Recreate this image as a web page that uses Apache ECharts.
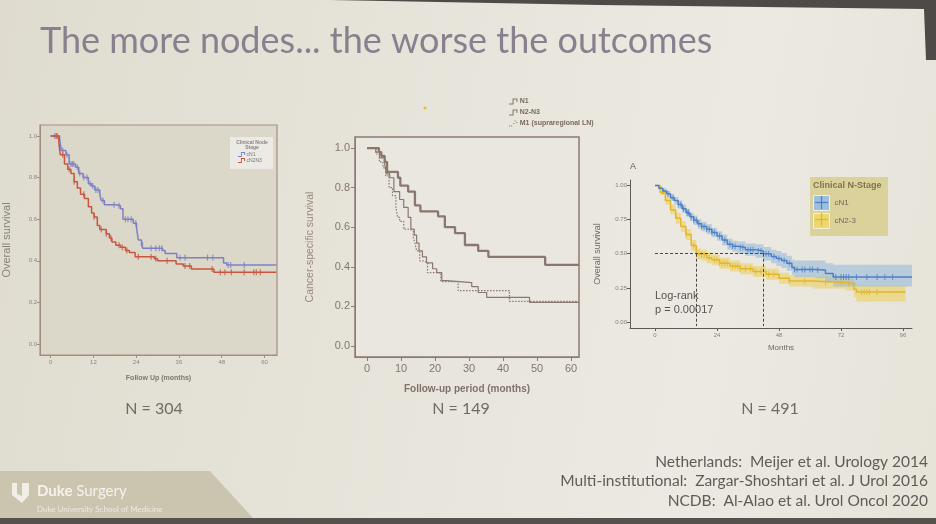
<!DOCTYPE html>
<html>
<head>
<meta charset="utf-8" />
<title>The more nodes... the worse the outcomes</title>
<script src="https://cdn.jsdelivr.net/npm/echarts@6/dist/echarts.min.js"></script>
<style>
  html, body { margin: 0; padding: 0; }
  body { background: linear-gradient(100deg, #dfdccf 0%, #e7e5db 45%, #ebe9e1 75%, #e6e3d9 100%); }
  #main { width: 936px; height: 524px; }
</style>
</head>
<body>
<div id="main"></div>
<script>
// ---- chart 1: Netherlands (Meijer 2014) ----
var c1Ticks = [0, 12, 24, 36, 48, 60];
var c1YTicks = [0, 0.2, 0.4, 0.6, 0.8, 1.0];
var cN1Time = [0, 1.2, 2.5, 3.0, 4.3, 5.2, 7.0, 7.9, 9.1, 10.6, 11.5, 12.4, 13.8, 14.2, 15.1, 18.3, 19.6, 20.3, 23.2, 24.1, 24.6, 25.5, 25.9, 31.4, 32.1, 35.4, 48.5, 49.4, 63.3];
var cN1Surv = [1.0, 1.0, 0.99, 0.93, 0.91, 0.865, 0.85, 0.82, 0.80, 0.77, 0.76, 0.74, 0.72, 0.69, 0.67, 0.665, 0.65, 0.60, 0.58, 0.56, 0.50, 0.475, 0.46, 0.45, 0.435, 0.415, 0.39, 0.38, 0.38];
var cN1Cens = [1.2, 1.9, 2.5, 3.4, 4.6, 5.7, 6.1, 6.5, 7.5, 8.2, 9.3, 10.2, 11.1, 11.8, 12.7, 13.3, 14.7, 17.8, 19.2, 21.0, 21.7, 22.6, 23.9, 25.8, 28.2, 29.5, 30.5, 31.2, 36.3, 37.7, 44.0, 45.5, 49.8, 50.5, 54.3];
var cN23Time = [0, 1.0, 2.3, 2.7, 3.9, 4.8, 5.7, 6.6, 7.5, 8.4, 9.5, 10.6, 11.5, 12.2, 13.1, 13.8, 15.6, 16.5, 17.2, 18.3, 19.6, 21.0, 22.1, 23.7, 29.1, 30.0, 35.2, 37.2, 39.5, 45.8, 63.3];
var cN23Surv = [1.0, 1.0, 0.97, 0.91, 0.865, 0.84, 0.82, 0.78, 0.75, 0.72, 0.70, 0.66, 0.63, 0.61, 0.57, 0.55, 0.53, 0.51, 0.49, 0.475, 0.465, 0.45, 0.44, 0.42, 0.41, 0.40, 0.385, 0.375, 0.36, 0.345, 0.345];
var cN23Cens = [1.6, 3.4, 5.2, 6.6, 9.3, 12.2, 14.2, 15.6, 16.9, 19.2, 20.1, 21.4, 24.6, 28.2, 29.5, 32.7, 37.7, 39.0, 45.3, 47.6, 48.9, 50.7, 54.3, 57.0, 57.7, 58.8];

// ---- chart 2: multi-institutional (Zargar-Shoshtari 2016) ----
var c2Ticks = [0, 10, 20, 30, 40, 50, 60];
var c2YTicks = [0, 0.2, 0.4, 0.6, 0.8, 1.0];
var n1Time = [0, 3.5, 4.2, 5.2, 5.9, 9.1, 9.8, 12.1, 14.1, 15.7, 20.9, 22.9, 25.9, 28.8, 32.7, 35.7, 52.4, 62.3];
var n1Surv = [1.0, 0.98, 0.96, 0.93, 0.88, 0.85, 0.81, 0.78, 0.71, 0.68, 0.655, 0.60, 0.57, 0.51, 0.48, 0.45, 0.41, 0.41];
var n23Time = [0, 2.6, 3.7, 5.2, 5.7, 6.7, 7.9, 9.6, 10.8, 12.1, 12.9, 13.9, 14.6, 15.3, 16.3, 17.5, 19.3, 20.5, 22.0, 23.4, 30.8, 32.7, 35.2, 47.8, 62.3];
var n23Surv = [1.0, 0.98, 0.95, 0.92, 0.87, 0.85, 0.78, 0.74, 0.70, 0.65, 0.59, 0.56, 0.52, 0.48, 0.45, 0.42, 0.39, 0.37, 0.33, 0.32, 0.30, 0.27, 0.245, 0.22, 0.22];
var m1Time = [0, 2.6, 3.6, 4.7, 5.5, 6.5, 7.5, 8.5, 9.0, 9.6, 10.8, 12.6, 13.6, 14.1, 14.6, 15.5, 16.7, 17.8, 20.5, 21.7, 26.8, 41.9, 62.3];
var m1Surv = [1.0, 0.97, 0.93, 0.90, 0.86, 0.80, 0.76, 0.70, 0.65, 0.63, 0.59, 0.58, 0.55, 0.52, 0.48, 0.43, 0.42, 0.37, 0.37, 0.325, 0.28, 0.225, 0.225];

// ---- chart 3: NCDB (Al-Alao 2020) ----
var c3Ticks = [0, 24, 48, 72, 96];
var c3YTicks = [0, 0.25, 0.5, 0.75, 1.0];
var ncN1Time = [0, 1.5, 3, 4.5, 6, 7.5, 9, 10.5, 12, 13.5, 15, 16.5, 18, 20, 22, 24, 26, 28, 30, 32, 35, 39, 42, 45, 47, 49, 51, 53, 54, 62, 66, 69, 99.5];
var ncN1Surv = [1.0, 0.98, 0.96, 0.94, 0.91, 0.89, 0.86, 0.83, 0.80, 0.77, 0.745, 0.72, 0.70, 0.68, 0.655, 0.63, 0.60, 0.57, 0.555, 0.545, 0.53, 0.52, 0.50, 0.48, 0.465, 0.45, 0.43, 0.40, 0.385, 0.38, 0.355, 0.33, 0.33];
var ncN1Lo = [1.0, 0.97, 0.94, 0.92, 0.89, 0.86, 0.83, 0.80, 0.77, 0.74, 0.71, 0.685, 0.665, 0.645, 0.62, 0.595, 0.56, 0.53, 0.515, 0.50, 0.485, 0.47, 0.45, 0.43, 0.41, 0.395, 0.375, 0.345, 0.33, 0.32, 0.29, 0.26, 0.26];
var ncN1Hi = [1.0, 0.99, 0.98, 0.96, 0.935, 0.915, 0.89, 0.86, 0.83, 0.80, 0.78, 0.755, 0.735, 0.715, 0.69, 0.665, 0.64, 0.61, 0.595, 0.59, 0.575, 0.57, 0.55, 0.53, 0.52, 0.505, 0.485, 0.455, 0.45, 0.45, 0.43, 0.42, 0.43];
var ncN1Cens = [3, 5, 7, 9, 10, 11, 12.5, 13, 14, 15, 16, 17, 18, 19, 20, 21, 22, 23, 25, 27, 29, 30, 31, 33, 34, 36, 37, 38, 40, 41, 43, 44, 46, 48, 50, 52, 54, 55, 57, 58, 60, 61, 63, 70, 72, 73, 74, 75, 78, 82, 86, 89, 92];
var ncN23Time = [0, 2, 4, 6, 8, 10, 12, 14, 16, 18, 20, 22, 25, 29, 33, 38, 43, 48, 52, 61, 74, 77, 78, 97];
var ncN23Surv = [1.0, 0.95, 0.89, 0.82, 0.76, 0.70, 0.64, 0.56, 0.50, 0.49, 0.47, 0.455, 0.43, 0.41, 0.39, 0.37, 0.35, 0.32, 0.30, 0.29, 0.28, 0.24, 0.22, 0.22];
var ncN23Lo = [1.0, 0.93, 0.86, 0.79, 0.72, 0.66, 0.60, 0.52, 0.46, 0.45, 0.43, 0.415, 0.39, 0.37, 0.35, 0.33, 0.31, 0.28, 0.26, 0.245, 0.23, 0.18, 0.15, 0.14];
var ncN23Hi = [1.0, 0.97, 0.92, 0.86, 0.80, 0.74, 0.68, 0.60, 0.54, 0.53, 0.51, 0.495, 0.47, 0.45, 0.43, 0.41, 0.39, 0.36, 0.34, 0.335, 0.33, 0.29, 0.27, 0.27];
var ncN23Cens = [12, 15, 16, 17, 18, 19, 21, 23, 24, 25, 26, 27, 28, 30, 31, 32, 33, 35, 37, 39, 41, 44, 46, 52, 58, 66, 72, 75, 80, 81, 82, 83, 86];
var medianSurv = 0.5;
var medianMonths = [16.1, 42];

var sansFont = "'Liberation Sans', Arial, sans-serif";
var slideFont = "Lato, 'Open Sans', sans-serif";

function pairs(ts, vs) {
  return ts.map(function (t, i) { return [t, vs[i]]; });
}
function triples(ts, lo, hi) {
  return ts.map(function (t, i) { return [t, lo[i], hi[i]]; });
}
// value of a step curve at time t (for placing censor ticks)
function survAt(ts, vs, t) {
  var v = vs[0];
  for (var i = 0; i < ts.length; i++) {
    if (ts[i] <= t) v = vs[i];
  }
  return v;
}
function censors(ts, vs, marks) {
  return marks.map(function (t) { return [t, survAt(ts, vs, t)]; });
}
// step-shaped confidence band, drawn once as a polygon
function bandRenderer(fill, opacity) {
  return function (params, api) {
    if (params.dataIndexInside !== 0) return null;
    var n = params.dataInsideLength;
    var top = [], bottom = [];
    for (var i = 0; i < n; i++) {
      var t0 = api.value(0, i);
      var t1 = i < n - 1 ? api.value(0, i + 1) : t0;
      var lo = api.value(1, i), hi = api.value(2, i);
      top.push(api.coord([t0, hi]), api.coord([t1, hi]));
      bottom.push(api.coord([t0, lo]), api.coord([t1, lo]));
    }
    return {
      type: 'polygon',
      shape: { points: top.concat(bottom.reverse()) },
      style: { fill: fill, opacity: opacity }
    };
  };
}

var myChart = echarts.init(document.getElementById('main'), null, { renderer: 'canvas' });

function axisX(grid, min, max, ticks, o) {
  return {
    type: 'value', gridIndex: grid, min: min, max: max,
    name: o.name, nameLocation: 'middle', nameGap: o.nameGap,
    nameTextStyle: o.nameStyle,
    axisLine: { show: true, onZero: false, lineStyle: { color: o.lineColor, width: o.lineWidth || 1 } },
    axisTick: { show: true, length: o.tickLen || 3, customValues: ticks, lineStyle: { color: o.lineColor } },
    axisLabel: { customValues: ticks, fontSize: o.fontSize, color: o.labelColor, margin: o.margin || 4, fontFamily: sansFont },
    splitLine: { show: false }
  };
}
function axisY(grid, min, max, ticks, o) {
  return {
    type: 'value', gridIndex: grid, min: min, max: max,
    name: o.name, nameLocation: 'middle', nameGap: o.nameGap,
    nameTextStyle: o.nameStyle,
    axisLine: { show: true, onZero: false, lineStyle: { color: o.lineColor, width: o.lineWidth || 1 } },
    axisTick: { show: true, length: o.tickLen || 3, customValues: ticks, lineStyle: { color: o.lineColor } },
    axisLabel: {
      customValues: ticks, fontSize: o.fontSize, color: o.labelColor, margin: o.margin || 3, fontFamily: sansFont,
      formatter: function (v) { return v.toFixed(o.digits); }
    },
    splitLine: { show: false }
  };
}

var c1Line = '#a48d80';
var c2Line = '#8c7b73';
var c3Line = '#5e5a56';
var purple = '#7d7fc6';
var red = '#c8553f';
var brown = '#8a776e';
var blue = '#4d7fc5';
var gold = '#e2b62a';
var stepIcon = 'path://M0,7h5v-7h7v5h-1.5v-3.5h-4v7h-6.5z';

var option = {
  animation: false,
  grid: [
    { left: 31, top: 125, width: 246, height: 230, show: true, backgroundColor: '#dcd8c9', borderColor: c1Line, borderWidth: 1.2 },
    { left: 355, top: 137, width: 224, height: 220, show: true, backgroundColor: '#e9e7df', borderColor: c2Line, borderWidth: 1.5 },
    { left: 630, top: 180, width: 282, height: 148 }
  ],
  xAxis: [
    axisX(0, -2.97, 63.5, c1Ticks, {
      name: 'Follow Up (months)', nameGap: 20, lineColor: c1Line, fontSize: 6, labelColor: '#8e8680',
      nameStyle: { fontSize: 7, fontWeight: 'bold', color: '#7d7672', fontFamily: sansFont }
    }),
    axisX(1, -3.53, 62.35, c2Ticks, {
      name: 'Follow-up period (months)', nameGap: 27, lineColor: c2Line, fontSize: 11, labelColor: '#837670', margin: 6, tickLen: 4,
      nameStyle: { fontSize: 10, fontWeight: 'bold', color: '#7f726c', fontFamily: sansFont }
    }),
    axisX(2, -9.68, 99.5, c3Ticks, {
      name: 'Months', nameGap: 16, lineColor: c3Line, fontSize: 6, labelColor: '#85807a',
      nameStyle: { fontSize: 8, color: '#6f6a66', fontFamily: sansFont, padding: [0, 0, 0, 20] }
    })
  ],
  yAxis: [
    axisY(0, -0.053, 1.053, c1YTicks, {
      name: 'Overall survival', nameGap: 28, lineColor: c1Line, fontSize: 6, labelColor: '#8e8680', digits: 1,
      nameStyle: { fontSize: 11, color: '#8a817c', fontFamily: sansFont }
    }),
    axisY(1, -0.056, 1.056, c2YTicks, {
      name: 'Cancer-specific survival', nameGap: 39, lineColor: c2Line, fontSize: 11, labelColor: '#837670', digits: 1, margin: 5, tickLen: 4,
      nameStyle: { fontSize: 10.5, color: '#9a8880', fontFamily: sansFont }
    }),
    axisY(2, -0.044, 1.04, c3YTicks, {
      name: 'Overall survival', nameGap: 28, lineColor: c3Line, fontSize: 6, labelColor: '#85807a', digits: 2,
      nameStyle: { fontSize: 9, color: '#6f6a66', fontFamily: sansFont }
    })
  ],
  legend: [
    {
      left: 238, top: 152, padding: 0, orient: 'vertical', itemWidth: 8, itemHeight: 5, itemGap: 1, selectedMode: false,
      icon: stepIcon,
      textStyle: { fontSize: 5, color: '#7a7470', fontFamily: sansFont, padding: [0, 0, 0, -4] },
      data: ['cN1', 'cN2N3']
    },
    {
      left: 509, top: 98, padding: 0, orient: 'vertical', itemWidth: 11, itemHeight: 6, itemGap: 4, selectedMode: false,
      textStyle: { fontSize: 7, fontWeight: 'bold', color: '#7a6a62', fontFamily: sansFont, padding: [0, 0, 0, -4] },
      data: [
        { name: 'N1', icon: stepIcon },
        { name: 'N2-N3', icon: stepIcon },
        { name: 'M1 (supraregional LN)', icon: 'path://M0,7h1.6v1.6h-1.6z M3,7h1.6v1.6h-1.6z M6,3.5h1.6v1.6h-1.6z M8,0h1.6v1.6h-1.6z M10.5,2h1.6v1.6h-1.6z' }
      ]
    },
    {
      left: 813, top: 195, padding: 0, orient: 'vertical', itemWidth: 16, itemHeight: 15, itemGap: 2, selectedMode: false,
      icon: 'rect', z: 6,
      textStyle: { fontSize: 8, color: '#6e6a5e', fontFamily: sansFont },
      formatter: function (name) { return name.split(' ')[0]; },
      data: [
        { name: 'cN1 (NCDB)', itemStyle: { color: '#9cbfdd', borderColor: '#f2efe0', borderWidth: 1 } },
        { name: 'cN2-3 (NCDB)', itemStyle: { color: '#efd76d', borderColor: '#f2efe0', borderWidth: 1 } }
      ]
    }
  ],
  graphic: [
    // slide edges (photo of the screen)
    { type: 'polygon', silent: true, shape: { points: [[330, 0], [936, 0], [936, 60], [926, 60], [924, 9], [600, 5]] }, style: { fill: '#4e4a48' } },
    { type: 'rect', silent: true, shape: { x: 0, y: 518, width: 936, height: 6 }, style: { fill: '#56514d' } },
    // title
    { type: 'text', silent: true, style: { x: 40, y: 23, text: 'The more nodes... the worse the outcomes', fill: '#8a7f8e', fontSize: 36, fontFamily: slideFont } },
    { type: 'circle', silent: true, shape: { cx: 425, cy: 108, r: 1.6 }, style: { fill: '#e2c424' } },
    // chart 1 legend box
    { type: 'rect', silent: true, z: 1, shape: { x: 230, y: 137, width: 43, height: 32 }, style: { fill: '#eceae4' } },
    { type: 'text', silent: true, z: 2, style: { x: 252, y: 140, text: 'Clinical Node\nStage', fill: '#8a8480', fontSize: 5, fontWeight: 'bold', align: 'center', lineHeight: 5, fontFamily: sansFont } },
    // chart 3 legend box
    { type: 'rect', silent: true, z: 5, shape: { x: 810, y: 177, width: 78, height: 59 }, style: { fill: '#dad19b' } },
    { type: 'text', silent: true, z: 6, style: { x: 813, y: 181, text: 'Clinical N-Stage', fill: '#7e7452', fontSize: 9, fontWeight: 'bold', fontFamily: sansFont } },
    { type: 'line', silent: true, z: 10, shape: { x1: 815, y1: 202.5, x2: 828, y2: 202.5 }, style: { stroke: blue, lineWidth: 1.2 } },
    { type: 'line', silent: true, z: 10, shape: { x1: 821.5, y1: 196, x2: 821.5, y2: 209 }, style: { stroke: blue, lineWidth: 1.2 } },
    { type: 'line', silent: true, z: 10, shape: { x1: 815, y1: 219.5, x2: 828, y2: 219.5 }, style: { stroke: gold, lineWidth: 1.2 } },
    { type: 'line', silent: true, z: 10, shape: { x1: 821.5, y1: 213, x2: 821.5, y2: 226 }, style: { stroke: gold, lineWidth: 1.2 } },
    // chart 3 annotations
    { type: 'text', silent: true, style: { x: 630, y: 162, text: 'A', fill: '#5f5a56', fontSize: 9, fontFamily: sansFont } },
    { type: 'text', silent: true, z: 5, style: { x: 655, y: 289, text: 'Log-rank\np = 0.00017', fill: '#57534f', fontSize: 11, lineHeight: 14, fontFamily: sansFont } },
    // sample sizes
    { type: 'text', silent: true, style: { x: 154, y: 409, text: 'N = 304', fill: '#6f6b67', fontSize: 16, align: 'center', verticalAlign: 'middle', fontFamily: slideFont } },
    { type: 'text', silent: true, style: { x: 461, y: 409, text: 'N = 149', fill: '#6f6b67', fontSize: 16, align: 'center', verticalAlign: 'middle', fontFamily: slideFont } },
    { type: 'text', silent: true, style: { x: 770, y: 409, text: 'N = 491', fill: '#6f6b67', fontSize: 16, align: 'center', verticalAlign: 'middle', fontFamily: slideFont } },
    // references
    { type: 'text', silent: true, style: { x: 928, y: 462, text: 'Netherlands:  Meijer et al. Urology 2014', fill: '#5f5b57', fontSize: 15.5, align: 'right', verticalAlign: 'middle', fontFamily: slideFont } },
    { type: 'text', silent: true, style: { x: 928, y: 481, text: 'Multi-institutional:  Zargar-Shoshtari et al. J Urol 2016', fill: '#5f5b57', fontSize: 15.5, align: 'right', verticalAlign: 'middle', fontFamily: slideFont } },
    { type: 'text', silent: true, style: { x: 928, y: 501, text: 'NCDB:  Al-Alao et al. Urol Oncol 2020', fill: '#5f5b57', fontSize: 15.5, align: 'right', verticalAlign: 'middle', fontFamily: slideFont } },
    // Duke footer
    { type: 'polygon', silent: true, shape: { points: [[0, 471], [210, 471], [253, 518], [0, 518]] }, style: { fill: '#cbc5b0' } },
    { type: 'polygon', silent: true, shape: { points: [[12, 483], [17, 483], [17, 494], [22, 496], [22, 483], [29, 483], [29, 495], [22, 503], [12, 495]] }, style: { fill: '#f1eee6' } },
    { type: 'text', silent: true, style: { x: 37, y: 491, text: '{b|Duke} Surgery', fill: '#f4f2ec', fontSize: 15, verticalAlign: 'middle', fontFamily: slideFont, rich: { b: { fontWeight: 'bold', fontSize: 15, fill: '#f4f2ec', fontFamily: slideFont } } } },
    { type: 'text', silent: true, style: { x: 37, y: 509, text: 'Duke University School of Medicine', fill: '#ece9e0', fontSize: 8, verticalAlign: 'middle', fontFamily: slideFont } }
  ],
  series: [
    // chart 1
    { name: 'cN1', type: 'line', step: 'end', xAxisIndex: 0, yAxisIndex: 0, showSymbol: false, color: purple, lineStyle: { width: 1.5 }, data: pairs(cN1Time, cN1Surv) },
    { name: 'cN2N3', type: 'line', step: 'end', xAxisIndex: 0, yAxisIndex: 0, showSymbol: false, color: red, lineStyle: { width: 1.5 }, data: pairs(cN23Time, cN23Surv) },
    { name: 'cN1 censored', type: 'scatter', xAxisIndex: 0, yAxisIndex: 0, symbol: 'rect', symbolSize: [1.2, 6], itemStyle: { color: purple }, data: censors(cN1Time, cN1Surv, cN1Cens) },
    { name: 'cN2N3 censored', type: 'scatter', xAxisIndex: 0, yAxisIndex: 0, symbol: 'rect', symbolSize: [1.2, 6], itemStyle: { color: red }, data: censors(cN23Time, cN23Surv, cN23Cens) },
    // chart 2
    { name: 'N1', type: 'line', step: 'end', xAxisIndex: 1, yAxisIndex: 1, showSymbol: false, color: brown, lineStyle: { width: 2.3 }, data: pairs(n1Time, n1Surv) },
    { name: 'N2-N3', type: 'line', step: 'end', xAxisIndex: 1, yAxisIndex: 1, showSymbol: false, color: brown, lineStyle: { width: 1.2 }, data: pairs(n23Time, n23Surv) },
    { name: 'M1 (supraregional LN)', type: 'line', step: 'end', xAxisIndex: 1, yAxisIndex: 1, showSymbol: false, color: brown, lineStyle: { width: 1.2, type: [1.5, 1.5] }, data: pairs(m1Time, m1Surv) },
    // chart 3 confidence bands
    { name: 'cN2-3 CI', type: 'custom', xAxisIndex: 2, yAxisIndex: 2, silent: true, clip: true, encode: { x: 0, y: [1, 2] }, renderItem: bandRenderer('#ecd15e', 0.6), data: triples(ncN23Time, ncN23Lo, ncN23Hi) },
    { name: 'cN1 CI', type: 'custom', xAxisIndex: 2, yAxisIndex: 2, silent: true, clip: true, encode: { x: 0, y: [1, 2] }, renderItem: bandRenderer('#8fb7da', 0.55), data: triples(ncN1Time, ncN1Lo, ncN1Hi) },
    // chart 3 curves
    {
      name: 'cN2-3 (NCDB)', type: 'line', step: 'end', xAxisIndex: 2, yAxisIndex: 2, showSymbol: false, color: gold, lineStyle: { width: 1.5 },
      data: pairs(ncN23Time, ncN23Surv),
      markLine: {
        silent: true, symbol: 'none', label: { show: false },
        lineStyle: { type: [3, 2], color: '#4a4642', width: 1 },
        data: [
          [{ coord: [0, medianSurv] }, { coord: [medianMonths[1], medianSurv] }],
          [{ coord: [medianMonths[0], medianSurv] }, { coord: [medianMonths[0], -0.03] }],
          [{ coord: [medianMonths[1], medianSurv] }, { coord: [medianMonths[1], -0.03] }]
        ]
      }
    },
    { name: 'cN1 (NCDB)', type: 'line', step: 'end', xAxisIndex: 2, yAxisIndex: 2, showSymbol: false, color: blue, lineStyle: { width: 1.5 }, data: pairs(ncN1Time, ncN1Surv) },
    { name: 'cN1 NCDB censored', type: 'scatter', xAxisIndex: 2, yAxisIndex: 2, symbol: 'rect', symbolSize: [1, 6], itemStyle: { color: blue }, data: censors(ncN1Time, ncN1Surv, ncN1Cens) },
    { name: 'cN2-3 NCDB censored', type: 'scatter', xAxisIndex: 2, yAxisIndex: 2, symbol: 'rect', symbolSize: [1, 6], itemStyle: { color: gold }, data: censors(ncN23Time, ncN23Surv, ncN23Cens) }
  ]
};

myChart.setOption(option);
</script>
</body>
</html>
